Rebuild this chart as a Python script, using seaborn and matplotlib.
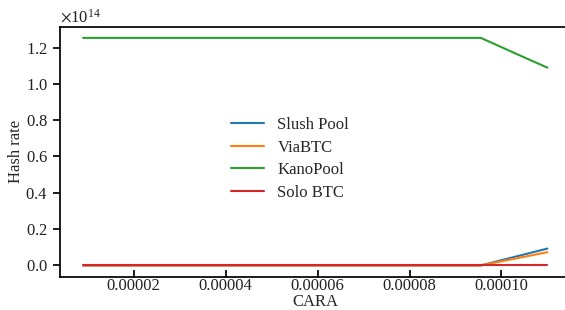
import matplotlib
matplotlib.use("Agg")
import matplotlib.pyplot as plt
import seaborn as sns
import pandas as pd
import numpy as np

cara = [0.000009, 0.0000955, 0.0001, 0.000105, 0.00011]
slush = [0.0, 0.0, 0.029e14, 0.061e14, 0.093e14]
viabtc = [0.0, 0.0, 0.023e14, 0.048e14, 0.073e14]
kano = [1.253e14, 1.253e14, 1.202e14, 1.145e14, 1.089e14]
solo = [0.0, 0.0, 0.0, 0.0, 0.0]
pools = ["Slush Pool", "ViaBTC", "KanoPool", "Solo BTC"]

rows = []
for name, vals in zip(pools, [slush, viabtc, kano, solo]):
    for x, y in zip(cara, vals):
        rows.append({"CARA": x, "Hash rate": y, "pool": name})
df = pd.DataFrame(rows)

sns.set_theme(style="ticks")
plt.rcParams["font.family"] = ["Liberation Serif", "DejaVu Serif"]
plt.rcParams["mathtext.fontset"] = "stix"
plt.rcParams["font.size"] = 12
plt.rcParams["axes.labelsize"] = 12
plt.rcParams["xtick.labelsize"] = 12
plt.rcParams["ytick.labelsize"] = 12

fig = plt.figure(figsize=(5.65, 3.10), dpi=100)
ax = fig.add_axes([0.106, 0.107, 0.904, 0.8075])
sns.lineplot(data=df, x="CARA", y="Hash rate", hue="pool", hue_order=pools,
             palette="tab10", linewidth=1.5, ax=ax)
ax.tick_params(axis="x", direction="in", length=5, pad=1, color="black", labelcolor="#222222")
ax.tick_params(axis="y", direction="out", length=5, color="black", labelcolor="#222222")
ax.set_xticks([0.00002, 0.00004, 0.00006, 0.00008, 0.00010])
ax.set_xticklabels(["0.00002", "0.00004", "0.00006", "0.00008", "0.00010"])
ax.ticklabel_format(axis="y", style="sci", scilimits=(0, 0), useMathText=True)
ax.yaxis.get_offset_text().set_fontsize(12)
for s in ax.spines.values():
    s.set_color("black")
ax.spines["right"].set_visible(False)
ax.set_xlabel("CARA", labelpad=-0.5)
ax.set_ylabel("Hash rate", labelpad=1)
ax.legend(loc="center", bbox_to_anchor=(0.4505, 0.471), frameon=False,
          fontsize=12, labelspacing=0.4)
fig.savefig("out.png", dpi=100)
